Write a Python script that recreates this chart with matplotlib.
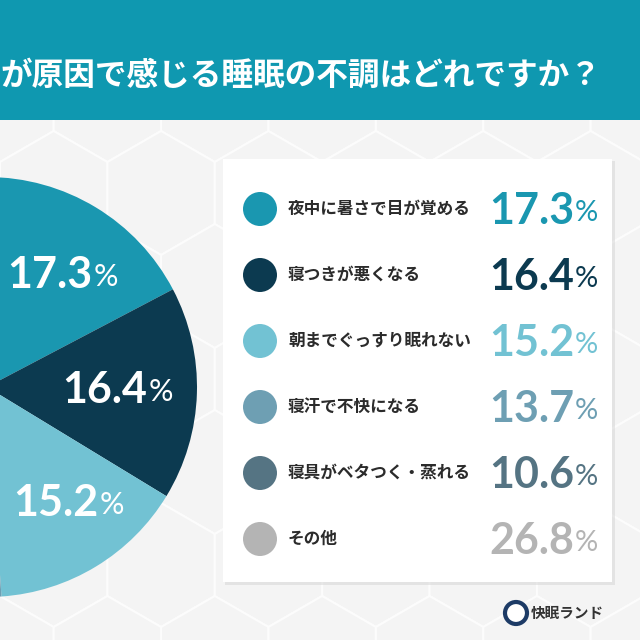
import numpy as np
import matplotlib.pyplot as plt
from matplotlib.patches import Rectangle, Circle, RegularPolygon

plt.rcParams['font.family'] = ['Noto Sans CJK JP', 'DejaVu Sans']

# data
labels = ["夜中に暑さで目が覚める", "寝つきが悪くなる", "朝までぐっすり眠れない",
          "寝汗で不快になる", "寝具がベタつく・蒸れる", "その他"]
values = [17.3, 16.4, 15.2, 13.7, 10.6, 26.8]
colors = ["#1a97b0", "#0c3a50", "#72c2d3", "#6e9fb3", "#557483", "#b4b4b4"]
title = "が原因で感じる睡眠の不調はどれですか？"

H = 640
def py(y):
    # pixel row (from top) -> data y
    return H - y

fig = plt.figure(figsize=(6.4, 6.4), dpi=100)
ax = fig.add_axes([0, 0, 1, 1])
fig.patch.set_facecolor("#f3f3f3")
ax.set_facecolor("#f3f3f3")

# faint hexagon background
r_hex = 62
for row in range(-1, 8):
    for col in range(-1, 8):
        cx = col * r_hex * np.sqrt(3) + (row % 2) * r_hex * np.sqrt(3) / 2
        cy = row * r_hex * 1.5
        ax.add_patch(RegularPolygon((cx, py(cy + 100)), 6, radius=r_hex,
                                    facecolor="#f4f4f4", edgecolor="#fcfcfc",
                                    lw=1.5, zorder=0))

# header band
ax.add_patch(Rectangle((0, py(120)), 640, 120, facecolor="#0f98b0", lw=0, zorder=1))
ax.text(601, py(76), title, color="white", fontsize=22.8, fontweight="bold",
        ha="right", va="center", zorder=2)

# pie (cropped on the left edge)
center = (-13, py(387))
R = 210
wedges, _ = ax.pie(values, colors=colors, startangle=90, counterclock=False,
                   center=center, radius=R, frame=True,
                   wedgeprops=dict(linewidth=0, zorder=3))

num_font = ['Lato', 'DejaVu Sans']
# where the visible slice labels sit (pixel x of the number's right edge, row)
pie_label_xy = [(92, 275), (147, 390), (98, 503)]
for v, (lx, ly) in zip(values[:3], pie_label_xy):
    ax.text(lx, py(ly), f"{v:.1f}", color="white", fontsize=31, fontweight="bold",
            family=num_font, ha="right", va="center", zorder=4)
    ax.text(lx + 2, py(ly + 2), "%", color="white", fontsize=22,
            family=num_font, ha="left", va="center", zorder=4)

# legend card
ax.add_patch(Rectangle((225, py(585)), 390, 424, facecolor="#d9d9d9", lw=0,
                       alpha=0.6, zorder=4))
ax.add_patch(Rectangle((223, py(582)), 389, 423, facecolor="white", lw=0, zorder=5))

row_y = [209, 275, 341, 407, 473, 539]
for lab, v, c, yy in zip(labels, values, colors, row_y):
    ax.add_patch(Circle((260, py(yy)), 17, facecolor=c, lw=0, zorder=6))
    ax.text(288, py(yy), lab, color="#2b2b2b", fontsize=12, fontweight="bold",
            ha="left", va="center", zorder=6)
    ax.text(574, py(yy + 2), f"{v:.1f}", color=c, fontsize=31, fontweight="bold",
            family=num_font, ha="right", va="center", zorder=6)
    ax.text(575, py(yy + 4), "%", color=c, fontsize=21,
            family=num_font, ha="left", va="center", zorder=6)

# logo
ax.add_patch(Circle((516, py(613)), 11, facecolor="white", edgecolor="#1d3b66",
                    lw=3, zorder=6))
ax.text(531, py(613), "快眠ランド", color="#333333", fontsize=10.5,
        fontweight="bold", ha="left", va="center", zorder=6)

ax.set_xlim(0, 640)
ax.set_ylim(0, 640)
ax.set_aspect("auto")
ax.axis("off")

fig.savefig("out.png", dpi=100, facecolor=fig.get_facecolor())
